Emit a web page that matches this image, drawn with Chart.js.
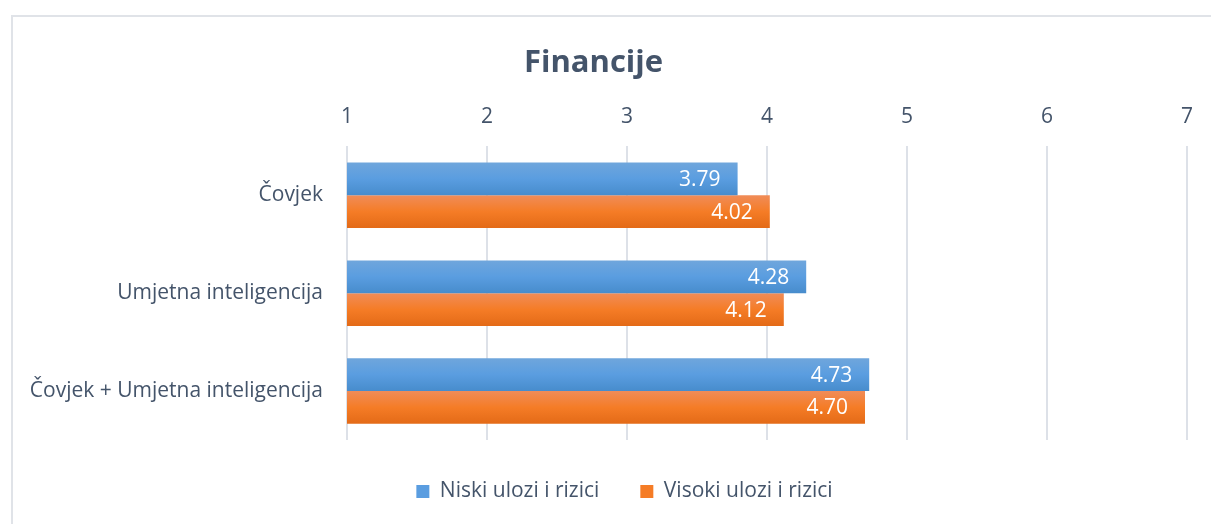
<!DOCTYPE html>
<html>
<head>
<meta charset="utf-8">
<script src="https://cdn.jsdelivr.net/npm/chart.js@4"></script>
<style>
  html, body { margin: 0; padding: 0; background: #fff; }
  #wrap { width: 1211px; height: 524px; position: relative; }
</style>
</head>
<body>
<div id="wrap"><canvas id="myChart" width="1211" height="524"></canvas></div>
<script>
var categories = ['Čovjek', 'Umjetna inteligencija', 'Čovjek + Umjetna inteligencija'];
var niski = [3.79, 4.28, 4.73];
var visoki = [4.02, 4.12, 4.70];
var seriesNames = ['Niski ulozi i rizici', 'Visoki ulozi i rizici'];
var tickValues = [1, 2, 3, 4, 5, 6, 7];

var textColor = '#44546a';
var fontName = "'Open Sans', sans-serif";
var catPct = 0.67;

// vertical gradient per bar, worked out from the category scale
function barGradient(stops, dsIndex) {
    return function(c) {
        var chart = c.chart;
        var y = chart.scales.y;
        if (!y || c.type !== 'data') return stops[1];
        var center = y.getPixelForValue(c.dataIndex);
        var band = y.getPixelForValue(1) - y.getPixelForValue(0);
        var size = band * catPct / 2;
        var top = center - band * catPct / 2 + dsIndex * size;
        var g = chart.ctx.createLinearGradient(0, top, 0, top + size);
        g.addColorStop(0, stops[0]);
        g.addColorStop(0.5, stops[1]);
        g.addColorStop(1, stops[2]);
        return g;
    };
}

var blueStops = ['#6fa6dc', '#5a9de0', '#478ccc'];
var orangeStops = ['#f08c58', '#f57c26', '#e36a17'];

var frame = {
    id: 'frame',
    beforeDraw: function(chart) {
        var ctx = chart.ctx;
        ctx.save();
        ctx.strokeStyle = '#e0e3e8';
        ctx.lineWidth = 2;
        ctx.strokeRect(12, 16, 1400, 700);
        ctx.restore();
    }
};

var valueLabels = {
    id: 'valueLabels',
    afterDatasetsDraw: function(chart) {
        var ctx = chart.ctx;
        ctx.save();
        ctx.fillStyle = '#ffffff';
        ctx.font = '21px ' + fontName;
        ctx.textAlign = 'right';
        ctx.textBaseline = 'middle';
        chart.data.datasets.forEach(function(ds, i) {
            chart.getDatasetMeta(i).data.forEach(function(bar, j) {
                ctx.fillText(ds.data[j].toFixed(2), bar.x - 17, bar.y + 1);
            });
        });
        ctx.restore();
    }
};

// legend: fixed height under the plot, nudged right a little
var legendPlace = {
    id: 'legendPlace',
    beforeUpdate: function(chart) {
        var lg = chart.legend;
        if (lg && !lg._patched) {
            var fit = lg.fit;
            lg.fit = function() {
                fit.call(this);
                this.height = 84;
            };
            lg._patched = true;
        }
    },
    afterLayout: function(chart) {
        chart.legend.left += 62;
    }
};

var ctx = document.getElementById('myChart').getContext('2d');
var myChart = new Chart(ctx, {
    type: 'bar',
    data: {
        labels: categories,
        datasets: [{
            label: seriesNames[0],
            data: niski,
            backgroundColor: barGradient(blueStops, 0),
            borderWidth: 0
        }, {
            label: seriesNames[1],
            data: visoki,
            backgroundColor: barGradient(orangeStops, 1),
            borderWidth: 0
        }]
    },
    options: {
        indexAxis: 'y',
        responsive: false,
        animation: false,
        devicePixelRatio: 1,
        categoryPercentage: catPct,
        barPercentage: 1,
        layout: {
            padding: { top: 0, left: 0, right: 24, bottom: 0 }
        },
        plugins: {
            title: {
                display: true,
                text: 'Financije',
                color: textColor,
                font: { family: fontName, size: 31, weight: 'bold' },
                padding: { top: 45, bottom: 5 }
            },
            legend: {
                position: 'bottom',
                labels: {
                    color: textColor,
                    font: { family: fontName, size: 21 },
                    boxWidth: 13,
                    boxHeight: 13,
                    padding: 41,
                    generateLabels: function(chart) {
                        var solid = [blueStops[1], orangeStops[1]];
                        return chart.data.datasets.map(function(ds, i) {
                            return {
                                text: ds.label,
                                fillStyle: solid[i],
                                strokeStyle: solid[i],
                                lineWidth: 0,
                                fontColor: textColor,
                                datasetIndex: i
                            };
                        });
                    }
                }
            },
            tooltip: { enabled: false }
        },
        scales: {
            x: {
                position: 'top',
                min: 1,
                max: 7,
                afterBuildTicks: function(scale) {
                    scale.ticks = tickValues.map(function(v) { return { value: v }; });
                },
                ticks: {
                    color: textColor,
                    font: { family: fontName, size: 21 },
                    padding: 17
                },
                grid: {
                    color: '#dde1e8',
                    lineWidth: 2,
                    drawTicks: false
                },
                border: { display: false }
            },
            y: {
                afterFit: function(scale) { scale.width = 347; },
                ticks: {
                    color: textColor,
                    font: { family: fontName, size: 21 },
                    padding: 16
                },
                grid: { display: false },
                border: { display: false }
            }
        }
    },
    plugins: [frame, valueLabels, legendPlace]
});
</script>
</body>
</html>
